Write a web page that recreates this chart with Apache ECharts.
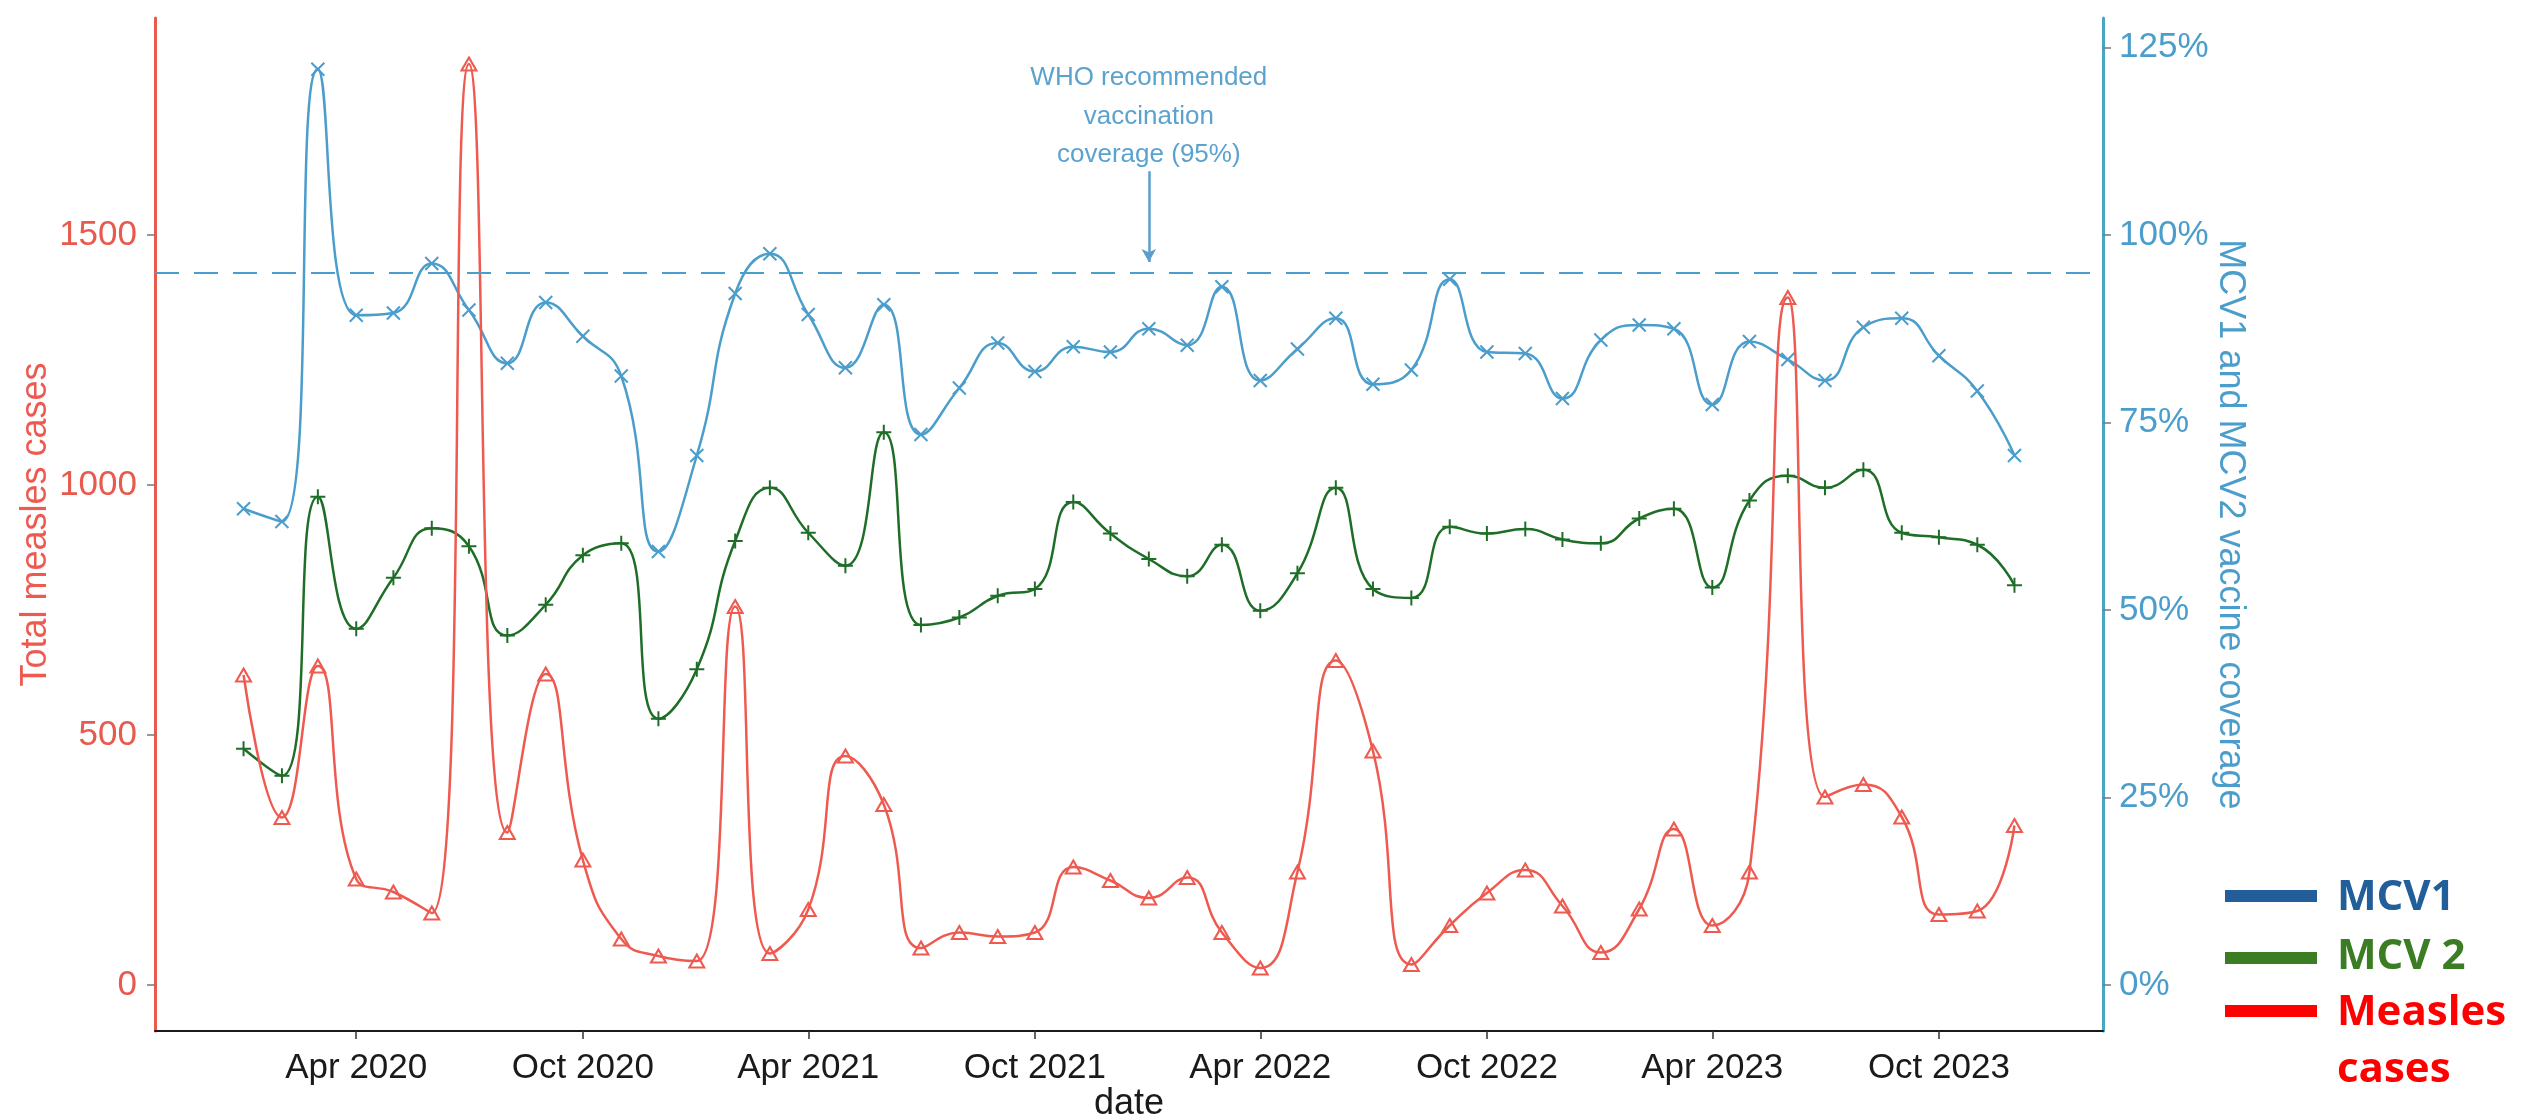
<!DOCTYPE html>
<html>
<head>
<meta charset="utf-8">
<script src="https://cdn.jsdelivr.net/npm/echarts/dist/echarts.min.js"></script>
<style>
  html, body { margin: 0; padding: 0; background: #fff; }
  #main { width: 2527px; height: 1114px; }
</style>
</head>
<body>
<div id="main"></div>
<script>
// monthly observations, Jan 2020 .. Dec 2023
var months = [
  '2020-01-01','2020-02-01','2020-03-01','2020-04-01','2020-05-01','2020-06-01',
  '2020-07-01','2020-08-01','2020-09-01','2020-10-01','2020-11-01','2020-12-01',
  '2021-01-01','2021-02-01','2021-03-01','2021-04-01','2021-05-01','2021-06-01',
  '2021-07-01','2021-08-01','2021-09-01','2021-10-01','2021-11-01','2021-12-01',
  '2022-01-01','2022-02-01','2022-03-01','2022-04-01','2022-05-01','2022-06-01',
  '2022-07-01','2022-08-01','2022-09-01','2022-10-01','2022-11-01','2022-12-01',
  '2023-01-01','2023-02-01','2023-03-01','2023-04-01','2023-05-01','2023-06-01',
  '2023-07-01','2023-08-01','2023-09-01','2023-10-01','2023-11-01','2023-12-01'
];

// total measles cases (left axis)
var measles = [
  620, 335, 638, 212, 186, 144, 1842, 305, 622, 250, 92, 58,
  48, 757, 63, 151, 458, 361, 74, 105, 97, 105, 236, 209,
  174, 215, 105, 34, 226, 649, 468, 41, 119, 184, 230, 158,
  65, 152, 312, 119, 226, 1375, 376, 401, 336, 141, 148, 319
];

// vaccine coverage in % (right axis)
var mcv1 = [
  63.5, 61.8, 122.1, 89.3, 89.6, 96.2, 90.0, 82.9, 91.0, 86.5, 81.2, 57.8,
  70.6, 92.2, 97.5, 89.4, 82.3, 90.7, 73.4, 79.6, 85.6, 81.8, 85.1, 84.4,
  87.5, 85.3, 93.1, 80.6, 84.8, 88.9, 80.1, 82.0, 94.1, 84.4, 84.2, 78.2,
  86.0, 88.0, 87.5, 77.4, 85.8, 83.4, 80.6, 87.7, 88.9, 83.9, 79.2, 70.6
];
var mcv2 = [
  31.5, 27.9, 65.1, 47.5, 54.3, 60.9, 58.5, 46.6, 50.7, 57.3, 58.9, 35.5,
  42.1, 59.2, 66.3, 60.3, 55.9, 73.7, 48.0, 49.0, 51.9, 52.8, 64.4, 60.2,
  56.8, 54.5, 58.7, 49.9, 54.9, 66.3, 52.8, 51.6, 61.1, 60.2, 60.8, 59.4,
  58.9, 62.2, 63.5, 53.0, 64.6, 67.9, 66.3, 68.7, 60.3, 59.7, 58.7, 53.3
];

// tick labels
var xTicks = ['2020-04-01','2020-10-01','2021-04-01','2021-10-01','2022-04-01','2022-10-01','2023-04-01','2023-10-01'];
var casesTicks = [0, 500, 1000, 1500];
var coverageTicks = [0, 25, 50, 75, 100, 125];

var whoTarget = 95;
var whoDate = '2022-01-01';
var monthNames = ['Jan','Feb','Mar','Apr','May','Jun','Jul','Aug','Sep','Oct','Nov','Dec'];

function ts(s) { return +new Date(s + 'T00:00:00'); }

var DAY = 86400000;
var xMin = ts(months[0]) - 71.5 * DAY;
var xMax = ts(months[months.length - 1]) + 71.5 * DAY;

var RED = '#EF5A50', BLUE = '#4B9DCB', GREEN = '#1F6E28';
var FONT = '"Liberation Sans", Arial, sans-serif';

function pairs(vals) {
  return months.map(function (m, i) { return [ts(m), vals[i]]; });
}

var myChart = echarts.init(document.getElementById('main'));

var option = {
  animation: false,
  textStyle: { fontFamily: FONT },
  // fixed plot box, no automatic shrinking for labels
  grid: { left: 155, right: 424, top: 18, bottom: 83, containLabel: false, outerBoundsMode: 'none' },
  xAxis: {
    // dates as timestamps on a value axis so the tick positions can be given
    type: 'value',
    min: xMin,
    max: xMax,
    name: 'date',
    nameLocation: 'middle',
    nameGap: 55,
    nameMoveOverlap: false,
    nameTextStyle: { fontSize: 36, color: '#1a1a1a', fontFamily: FONT },
    axisLine: { onZero: false, lineStyle: { color: '#1a1a1a', width: 2 } },
    axisTick: { show: true, length: 8, lineStyle: { color: '#333', width: 1.5 }, customValues: xTicks.map(ts) },
    axisLabel: {
      customValues: xTicks.map(ts),
      margin: 20,
      fontSize: 35,
      color: '#1a1a1a',
      fontFamily: FONT,
      formatter: function (v) {
        var d = new Date(v);
        return monthNames[d.getMonth()] + ' ' + d.getFullYear();
      }
    },
    splitLine: { show: false }
  },
  yAxis: [
    {
      type: 'value',
      min: -92,
      max: 1934,
      name: 'Total measles cases',
      nameLocation: 'middle',
      nameGap: 101,
      nameMoveOverlap: false,
      nameTextStyle: { fontSize: 36, color: RED, fontFamily: FONT },
      axisLine: { show: true, lineStyle: { color: '#E8594E', width: 3 } },
      axisTick: { show: true, length: 8, lineStyle: { color: '#777', width: 1.5 }, customValues: casesTicks },
      axisLabel: {
        customValues: casesTicks, margin: 18, fontSize: 35, color: '#E8594E', fontFamily: FONT,
        formatter: function (v) { return String(v); }
      },
      splitLine: { show: false }
    },
    {
      type: 'value',
      position: 'right',
      min: -92 / 15,
      max: 1934 / 15,
      name: 'MCV1 and MCV2 vaccine coverage',
      nameLocation: 'middle',
      nameRotate: -90,
      nameGap: 109,
      nameMoveOverlap: false,
      nameTextStyle: { fontSize: 36, color: BLUE, fontFamily: FONT },
      axisLine: { show: true, lineStyle: { color: '#4AA7C2', width: 3 } },
      axisTick: { show: true, length: 8, lineStyle: { color: '#777', width: 1.5 }, customValues: coverageTicks },
      axisLabel: { customValues: coverageTicks, margin: 16, fontSize: 35, color: BLUE, fontFamily: FONT, formatter: '{value}%' },
      splitLine: { show: false }
    }
  ],
  series: [
    {
      name: 'MCV1',
      type: 'line',
      yAxisIndex: 1,
      smooth: 0.5,
      data: pairs(mcv1),
      showAllSymbol: true,
      symbol: 'path://M0,0L10,10M10,0L0,10',
      symbolSize: 13,
      lineStyle: { color: BLUE, width: 2.5 },
      itemStyle: { color: 'transparent', borderColor: BLUE, borderWidth: 2 },
      markLine: {
        silent: true,
        symbol: ['none', 'none'],
        label: { show: false },
        data: [
          { yAxis: whoTarget, lineStyle: { color: BLUE, width: 2, type: [24, 15] } },
          [
            { coord: [ts(whoDate), 108.5], symbol: 'none', lineStyle: { color: '#5C9FCB', width: 2.5, type: 'solid' } },
            { coord: [ts(whoDate), 96.4], symbol: 'arrow', symbolSize: [11, 13] }
          ]
        ]
      },
      markPoint: {
        silent: true,
        symbol: 'rect',
        symbolSize: 1,
        itemStyle: { color: 'transparent' },
        label: {
          show: true,
          position: 'inside',
          formatter: 'WHO recommended\nvaccination\ncoverage (95%)',
          fontSize: 26,
          lineHeight: 38.5,
          color: '#5BA2CF',
          fontFamily: FONT,
          align: 'center'
        },
        data: [{ coord: [ts(whoDate), 115.8] }]
      }
    },
    {
      name: 'MCV 2',
      type: 'line',
      yAxisIndex: 1,
      smooth: 0.5,
      data: pairs(mcv2),
      showAllSymbol: true,
      symbol: 'path://M5,0L5,10M0,5L10,5',
      symbolSize: 15,
      lineStyle: { color: GREEN, width: 2.5 },
      itemStyle: { color: 'transparent', borderColor: GREEN, borderWidth: 2 }
    },
    {
      name: 'Measles cases',
      type: 'line',
      yAxisIndex: 0,
      smooth: 0.5,
      data: pairs(measles),
      showAllSymbol: true,
      symbol: 'triangle',
      symbolSize: [15, 13],
      lineStyle: { color: RED, width: 2.5 },
      itemStyle: { color: 'transparent', borderColor: RED, borderWidth: 2 }
    }
  ],
  // hand drawn legend at bottom right
  graphic: [
    { type: 'rect', left: 2225, top: 890, shape: { width: 92, height: 12 }, style: { fill: '#215E9A' } },
    { type: 'rect', left: 2225, top: 952, shape: { width: 92, height: 12 }, style: { fill: '#3A7D22' } },
    { type: 'rect', left: 2225, top: 1005, shape: { width: 92, height: 12 }, style: { fill: '#FF0000' } },
    { type: 'text', x: 2337, y: 898, style: { text: 'MCV1', fill: '#215E9A', font: 'bold 42px "Open Sans", sans-serif', verticalAlign: 'middle' } },
    { type: 'text', x: 2337, y: 957, style: { text: 'MCV 2', fill: '#3A7D22', font: 'bold 42px "Open Sans", sans-serif', verticalAlign: 'middle' } },
    { type: 'text', x: 2337, y: 1013, style: { text: 'Measles', fill: '#FF0000', font: 'bold 42px "Open Sans", sans-serif', verticalAlign: 'middle' } },
    { type: 'text', x: 2337, y: 1070, style: { text: 'cases', fill: '#FF0000', font: 'bold 42px "Open Sans", sans-serif', verticalAlign: 'middle' } }
  ]
};

myChart.setOption(option);
</script>
</body>
</html>
